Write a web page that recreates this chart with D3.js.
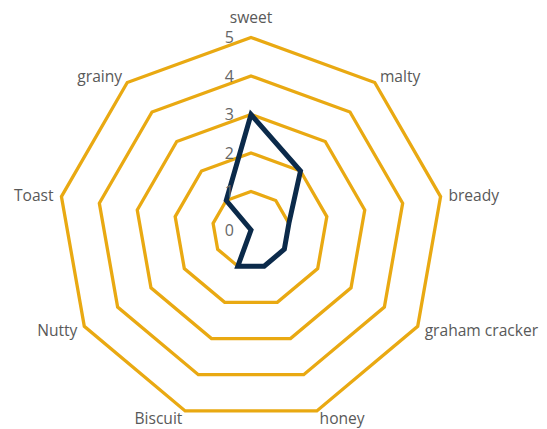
<!DOCTYPE html>
<html>
<head>
<meta charset="utf-8">
<script src="https://cdn.jsdelivr.net/npm/d3@7"></script>
<style>
  body { margin: 0; background: #fff; }
  text { font-family: "Open Sans", sans-serif; fill: #595959; }
</style>
</head>
<body>
<svg id="chart" width="547" height="429"></svg>
<script>
const categories = ['sweet', 'malty', 'bready', 'graham cracker', 'honey', 'Biscuit', 'Nutty', 'Toast', 'grainy'];
const values = [3, 2, 1, 1, 1, 1, 0, 0, 1];
const ticks = [0, 1, 2, 3, 4, 5];

const width = 547, height = 429;
const cx = 251, cy = 230, R = 192.5;

const svg = d3.select('#chart');

const r = d3.scaleLinear().domain([0, 5]).range([0, R]);
const angle = d3.scalePoint()
  .domain(categories)
  .range([0, 2 * Math.PI * (categories.length - 1) / categories.length]);

const g = svg.append('g').attr('transform', `translate(${cx},${cy})`);

const radial = d3.lineRadial()
  .angle(d => angle(d.cat))
  .radius(d => r(d.v))
  .curve(d3.curveLinearClosed);

// grid polygons
g.selectAll('.grid')
  .data(ticks.filter(t => t > 0))
  .enter()
  .append('path')
  .attr('d', t => radial(categories.map(c => ({ cat: c, v: t }))))
  .attr('fill', 'none')
  .attr('stroke', '#E9A912')
  .attr('stroke-width', 3.3)
  .attr('stroke-linejoin', 'miter');

// data line
g.append('path')
  .attr('d', radial(categories.map((c, i) => ({ cat: c, v: values[i] }))))
  .attr('fill', 'none')
  .attr('stroke', '#0B2A4A')
  .attr('stroke-width', 5)
  .attr('stroke-linejoin', 'miter');

// tick labels
g.selectAll('.tick')
  .data(ticks)
  .enter()
  .append('text')
  .attr('x', -17)
  .attr('y', t => -r(t))
  .attr('dy', '0.35em')
  .attr('text-anchor', 'end')
  .style('font-size', '16px')
  .style('fill', '#666')
  .text(t => t);

// category labels
g.selectAll('.cat')
  .data(categories)
  .enter()
  .append('text')
  .attr('x', c => (R + 8) * Math.sin(angle(c)))
  .attr('y', c => {
    const y = -(R + 8) * Math.cos(angle(c));
    return Math.abs(Math.sin(angle(c))) < 0.1 ? y - 12 : y;
  })
  .attr('dy', '0.35em')
  .attr('text-anchor', c => {
    const s = Math.sin(angle(c));
    return Math.abs(s) < 0.1 ? 'middle' : (s > 0 ? 'start' : 'end');
  })
  .style('font-size', '15.6px')
  .text(c => c);
</script>
</body>
</html>
